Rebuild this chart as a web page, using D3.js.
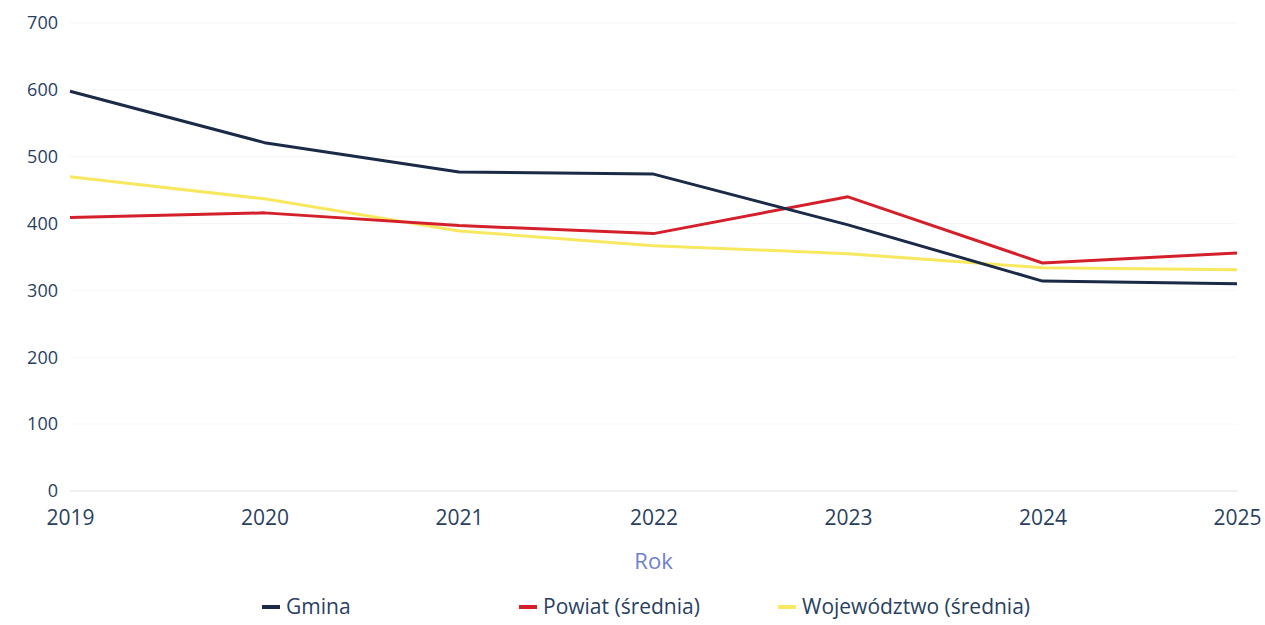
<!DOCTYPE html>
<html>
<head>
<meta charset="utf-8">
<script src="https://cdn.jsdelivr.net/npm/d3@7"></script>
<style>
  body { margin: 0; background: #fff; }
  text { font-family: "Open Sans", sans-serif; }
</style>
</head>
<body>
<svg id="chart"></svg>
<script>
const width = 1265;
const height = 625;

// data
const years = [2019, 2020, 2021, 2022, 2023, 2024, 2025];
const gmina = [598, 521, 477, 474, 398, 314, 310];
const powiat = [409, 416, 397, 385, 440, 341, 356];
const wojewodztwo = [470, 437, 389, 367, 355, 334, 331];
const yTicks = [0, 100, 200, 300, 400, 500, 600, 700];

const series = [
  { name: "Gmina", values: gmina, color: "#1b2a46" },
  { name: "Powiat (średnia)", values: powiat, color: "#d4202b" },
  { name: "Województwo (średnia)", values: wojewodztwo, color: "#f8e860" }
];

const margin = { left: 70, right: 28, top: 23, bottom: 134 };

const svg = d3.select("#chart")
  .attr("width", width)
  .attr("height", height);

const x = d3.scaleLinear()
  .domain([2019, 2025])
  .range([margin.left, width - margin.right]);

const y = d3.scaleLinear()
  .domain([0, 700])
  .range([height - margin.bottom, margin.top]);

// faint grid
svg.append("g")
  .selectAll("line")
  .data(yTicks.filter(d => d > 0))
  .join("line")
  .attr("x1", margin.left)
  .attr("x2", width - margin.right)
  .attr("y1", d => y(d))
  .attr("y2", d => y(d))
  .attr("stroke", "#f7f7f7")
  .attr("stroke-width", 1);

svg.append("line")
  .attr("x1", margin.left)
  .attr("x2", width - margin.right)
  .attr("y1", y(0))
  .attr("y2", y(0))
  .attr("stroke", "#ebebeb")
  .attr("stroke-width", 1.5);

// y axis
const yAxis = svg.append("g")
  .attr("transform", `translate(${margin.left - 12},0)`)
  .call(d3.axisLeft(y).tickValues(yTicks).tickSize(0).tickPadding(0));
yAxis.select(".domain").remove();
yAxis.selectAll("text")
  .attr("fill", "#2a3f5f")
  .style("font-size", "18px");

// x axis
const xAxis = svg.append("g")
  .attr("transform", `translate(0,${y(0) + 8})`)
  .call(d3.axisBottom(x).tickValues(years).tickFormat(d3.format("d")).tickSize(0).tickPadding(11));
xAxis.select(".domain").remove();
xAxis.selectAll("text")
  .attr("fill", "#2a3f5f")
  .style("font-size", "21px");

svg.append("text")
  .attr("x", (x(2019) + x(2025)) / 2)
  .attr("y", 569)
  .attr("text-anchor", "middle")
  .attr("fill", "#6f7fcf")
  .style("font-size", "22px")
  .text("Rok");

// lines
const line = d3.line()
  .x((d, i) => x(years[i]))
  .y(d => y(d));

svg.append("g")
  .selectAll("path")
  .data(series.slice().reverse())
  .join("path")
  .attr("d", d => line(d.values))
  .attr("fill", "none")
  .attr("stroke", d => d.color)
  .attr("stroke-width", 3)
  .attr("stroke-linejoin", "round");

// legend
const legendX = [262, 519, 778];
const legend = svg.append("g")
  .selectAll("g")
  .data(series)
  .join("g")
  .attr("transform", (d, i) => `translate(${legendX[i]},607)`);

legend.append("line")
  .attr("x1", 0)
  .attr("x2", 18)
  .attr("stroke", d => d.color)
  .attr("stroke-width", 4);

legend.append("text")
  .attr("x", 24)
  .attr("dy", "0.35em")
  .attr("fill", "#2a3f5f")
  .style("font-size", "21px")
  .text(d => d.name);
</script>
</body>
</html>
